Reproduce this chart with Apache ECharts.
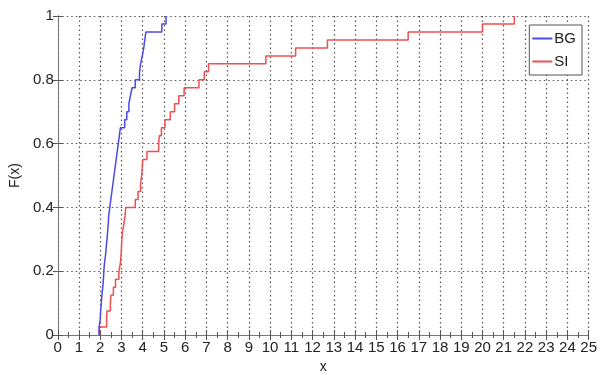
<!DOCTYPE html>
<html>
<head>
<meta charset="utf-8">
<script src="https://cdn.jsdelivr.net/npm/echarts@6/dist/echarts.min.js"></script>
<style>html,body{margin:0;padding:0;background:#fff;}#c{width:600px;height:379px;}</style>
</head>
<body>
<div id="c"></div>
<script>
var xTicks = [0,1,2,3,4,5,6,7,8,9,10,11,12,13,14,15,16,17,18,19,20,21,22,23,24,25];
var yTicks = [0,0.2,0.4,0.6,0.8,1];
var seriesNames = ['BG','SI'];
var bgX = [1.95,1.95,2.0,2.02,2.05,2.08,2.12,2.15,2.17,2.2,2.25,2.28,2.32,2.35,2.38,2.4,2.45,2.5,2.55,2.6,2.65,2.7,2.75,2.8,2.85,2.9,2.95,3.15,3.25,3.35,3.42,3.5,3.65,3.85,3.9,3.98,4.05,4.1,4.15,4.9,5.1];
var bgY = [0,0.025,0.05,0.075,0.1,0.125,0.15,0.175,0.2,0.225,0.25,0.275,0.3,0.325,0.35,0.375,0.4,0.425,0.45,0.475,0.5,0.525,0.55,0.575,0.6,0.625,0.65,0.675,0.7,0.725,0.75,0.775,0.8,0.825,0.85,0.875,0.9,0.925,0.95,0.975,1.0];
var siX = [1.95,1.95,2.3,2.32,2.48,2.5,2.62,2.72,2.88,2.95,2.98,3.0,3.02,3.05,3.12,3.17,3.2,3.65,3.78,3.9,3.95,3.98,4.0,4.2,4.75,4.78,4.88,5.05,5.3,5.5,5.7,5.95,6.65,6.9,7.1,9.8,11.2,12.7,16.5,20.0,21.5];
var siY = [0,0.025,0.05,0.075,0.1,0.125,0.15,0.175,0.2,0.225,0.25,0.275,0.3,0.325,0.35,0.375,0.4,0.425,0.45,0.475,0.5,0.525,0.55,0.575,0.6,0.625,0.65,0.675,0.7,0.725,0.75,0.775,0.8,0.825,0.85,0.875,0.9,0.925,0.95,0.975,1.0];

function zip(a,b){return a.map(function(v,i){return [v,b[i]];});}
var FONT = '"Liberation Sans Narrow","Liberation Sans",Arial,sans-serif';
var chart = echarts.init(document.getElementById('c'), null, {renderer:'canvas'});
var gridLine = {show:true, lineStyle:{color:'#555', type:[1.5,3], width:1.2}};
var axLine = {show:true, lineStyle:{color:'#777', width:1}};
chart.setOption({
  animation:false,
  backgroundColor:'#fff',
  grid:{left:48, right:8, top:16, bottom:39, containLabel:false},
  legend:{
    data:seriesNames, orient:'vertical', right:18, top:25,
    backgroundColor:'#fff', borderColor:'#555', borderWidth:1,
    padding:[6,6,6,3], itemGap:8, itemWidth:20, itemHeight:2, icon:'rect',
    textStyle:{fontFamily:FONT, fontSize:15, color:'#222', padding:[0,0,0,-3]}
  },
  xAxis:[{
    type:'value', min:0, max:25, interval:1, position:'bottom',
    name:'x', nameLocation:'middle', nameGap:25,
    nameTextStyle:{fontFamily:FONT, fontSize:14, color:'#222'},
    axisLine:axLine,
    axisTick:{show:true, inside:true, length:5, lineStyle:{color:'#555'}},
    minorTick:{show:true, splitNumber:2, length:3, lineStyle:{color:'#555'}},
    axisLabel:{fontFamily:FONT, fontSize:15, color:'#222', margin:5,
      formatter:function(v){return xTicks.indexOf(v)>=0 ? String(v) : '';}},
    splitLine:gridLine
  },{
    type:'value', min:0, max:25, interval:1, position:'top',
    axisLine:axLine,
    axisTick:{show:true, inside:true, length:5, lineStyle:{color:'#555'}},
    minorTick:{show:true, splitNumber:2, length:3, lineStyle:{color:'#555'}},
    axisLabel:{show:false}, splitLine:{show:false}
  }],
  yAxis:[{
    type:'value', min:0, max:1, interval:0.2, position:'left',
    name:'F(x)', nameLocation:'middle', nameGap:32, nameRotate:90,
    nameTextStyle:{fontFamily:FONT, fontSize:14, color:'#222'},
    axisLine:axLine,
    axisTick:{show:true, inside:true, length:5, lineStyle:{color:'#555'}},
    axisLabel:{fontFamily:FONT, fontSize:15, color:'#222', margin:4,
      formatter:function(v){var r=Math.round(v*10)/10; return yTicks.indexOf(r)>=0 ? String(r) : '';}},
    splitLine:gridLine
  },{
    type:'value', min:0, max:1, interval:0.2, position:'right',
    axisLine:axLine,
    axisTick:{show:true, inside:true, length:5, lineStyle:{color:'#555'}},
    axisLabel:{show:false}, splitLine:{show:false}
  }],
  series:[
    {name:seriesNames[0], type:'line', step:'end', data:zip(bgX,bgY), showSymbol:false, symbol:'none',
     lineStyle:{color:'#4a4ae8', width:1.5}, itemStyle:{color:'#4a4ae8'}, z:3},
    {name:seriesNames[1], type:'line', step:'end', data:zip(siX,siY), showSymbol:false, symbol:'none',
     lineStyle:{color:'#ee4f4f', width:1.5}, itemStyle:{color:'#ee4f4f'}, z:2}
  ]
});
</script>
</body>
</html>
